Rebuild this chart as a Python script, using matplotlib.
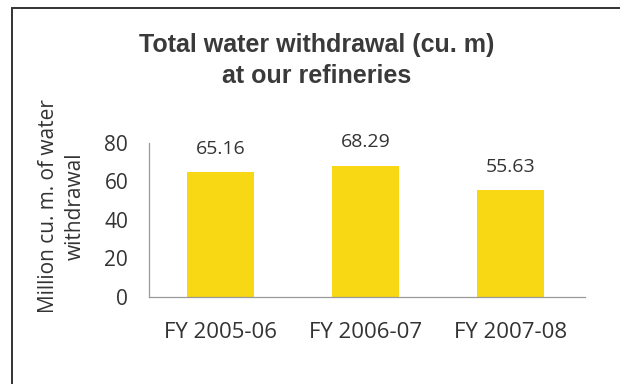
import matplotlib.pyplot as plt
from matplotlib.patches import Rectangle

categories = ['FY 2005-06', 'FY 2006-07', 'FY 2007-08']
withdrawal = [65.16, 68.29, 55.63]
yticks = [0, 20, 40, 60, 80]

W, H = 620, 384
fig = plt.figure(figsize=(6.2, 3.84), dpi=100)
fig.patch.set_facecolor('white')

# outer frame, cut off at right and bottom like the scan
fig.patches.append(Rectangle((12 / W, -0.05), 1.2, 1 - 8 / H + 0.05,
                             transform=fig.transFigure, fill=False,
                             edgecolor='#333333', linewidth=1.4))

ax = fig.add_axes([149 / W, 1 - 297 / H, 436 / W, 154 / H])
x = range(len(categories))
ax.bar(x, withdrawal, width=0.46, color='#F8D714')
ax.set_xlim(-0.493, 2.514)
ax.set_ylim(0, 80)
ax.set_yticks(yticks)
ax.set_xticks(list(x))
ax.set_xticklabels(categories, family='Open Sans', fontsize=16, color='#333333')
ax.set_yticklabels([str(t) for t in yticks], family='Open Sans', fontsize=15, color='#333333')
ax.tick_params(axis='both', length=0)
ax.tick_params(axis='y', pad=15)
ax.tick_params(axis='x', pad=18)
for s in ['top', 'right']:
    ax.spines[s].set_visible(False)
for s in ['left', 'bottom']:
    ax.spines[s].set_color('#999999')
    ax.spines[s].set_linewidth(0.9)

for i, v in enumerate(withdrawal):
    ax.annotate(f'{v:.2f}', (i, v), xytext=(0, 13), textcoords='offset points',
                ha='center', va='baseline', family='Open Sans', fontsize=14,
                color='#333333')

# two-line y label
fig.text(49 / W, 1 - 206 / H, 'Million cu. m. of water', rotation=90,
         ha='center', va='center', family='Open Sans', fontsize=15, color='#333333')
fig.text(75 / W, 1 - 206 / H, 'withdrawal', rotation=90,
         ha='center', va='center', family='Open Sans', fontsize=15, color='#333333')

fig.text(317 / W, 1 - 52 / H, 'Total water withdrawal (cu. m)', ha='center',
         va='baseline', family='Liberation Sans', fontweight='bold',
         fontsize=18, color='#3a3a3a')
fig.text(317 / W, 1 - 83 / H, 'at our refineries', ha='center',
         va='baseline', family='Liberation Sans', fontweight='bold',
         fontsize=18, color='#3a3a3a')

fig.savefig('out.png', dpi=100)
